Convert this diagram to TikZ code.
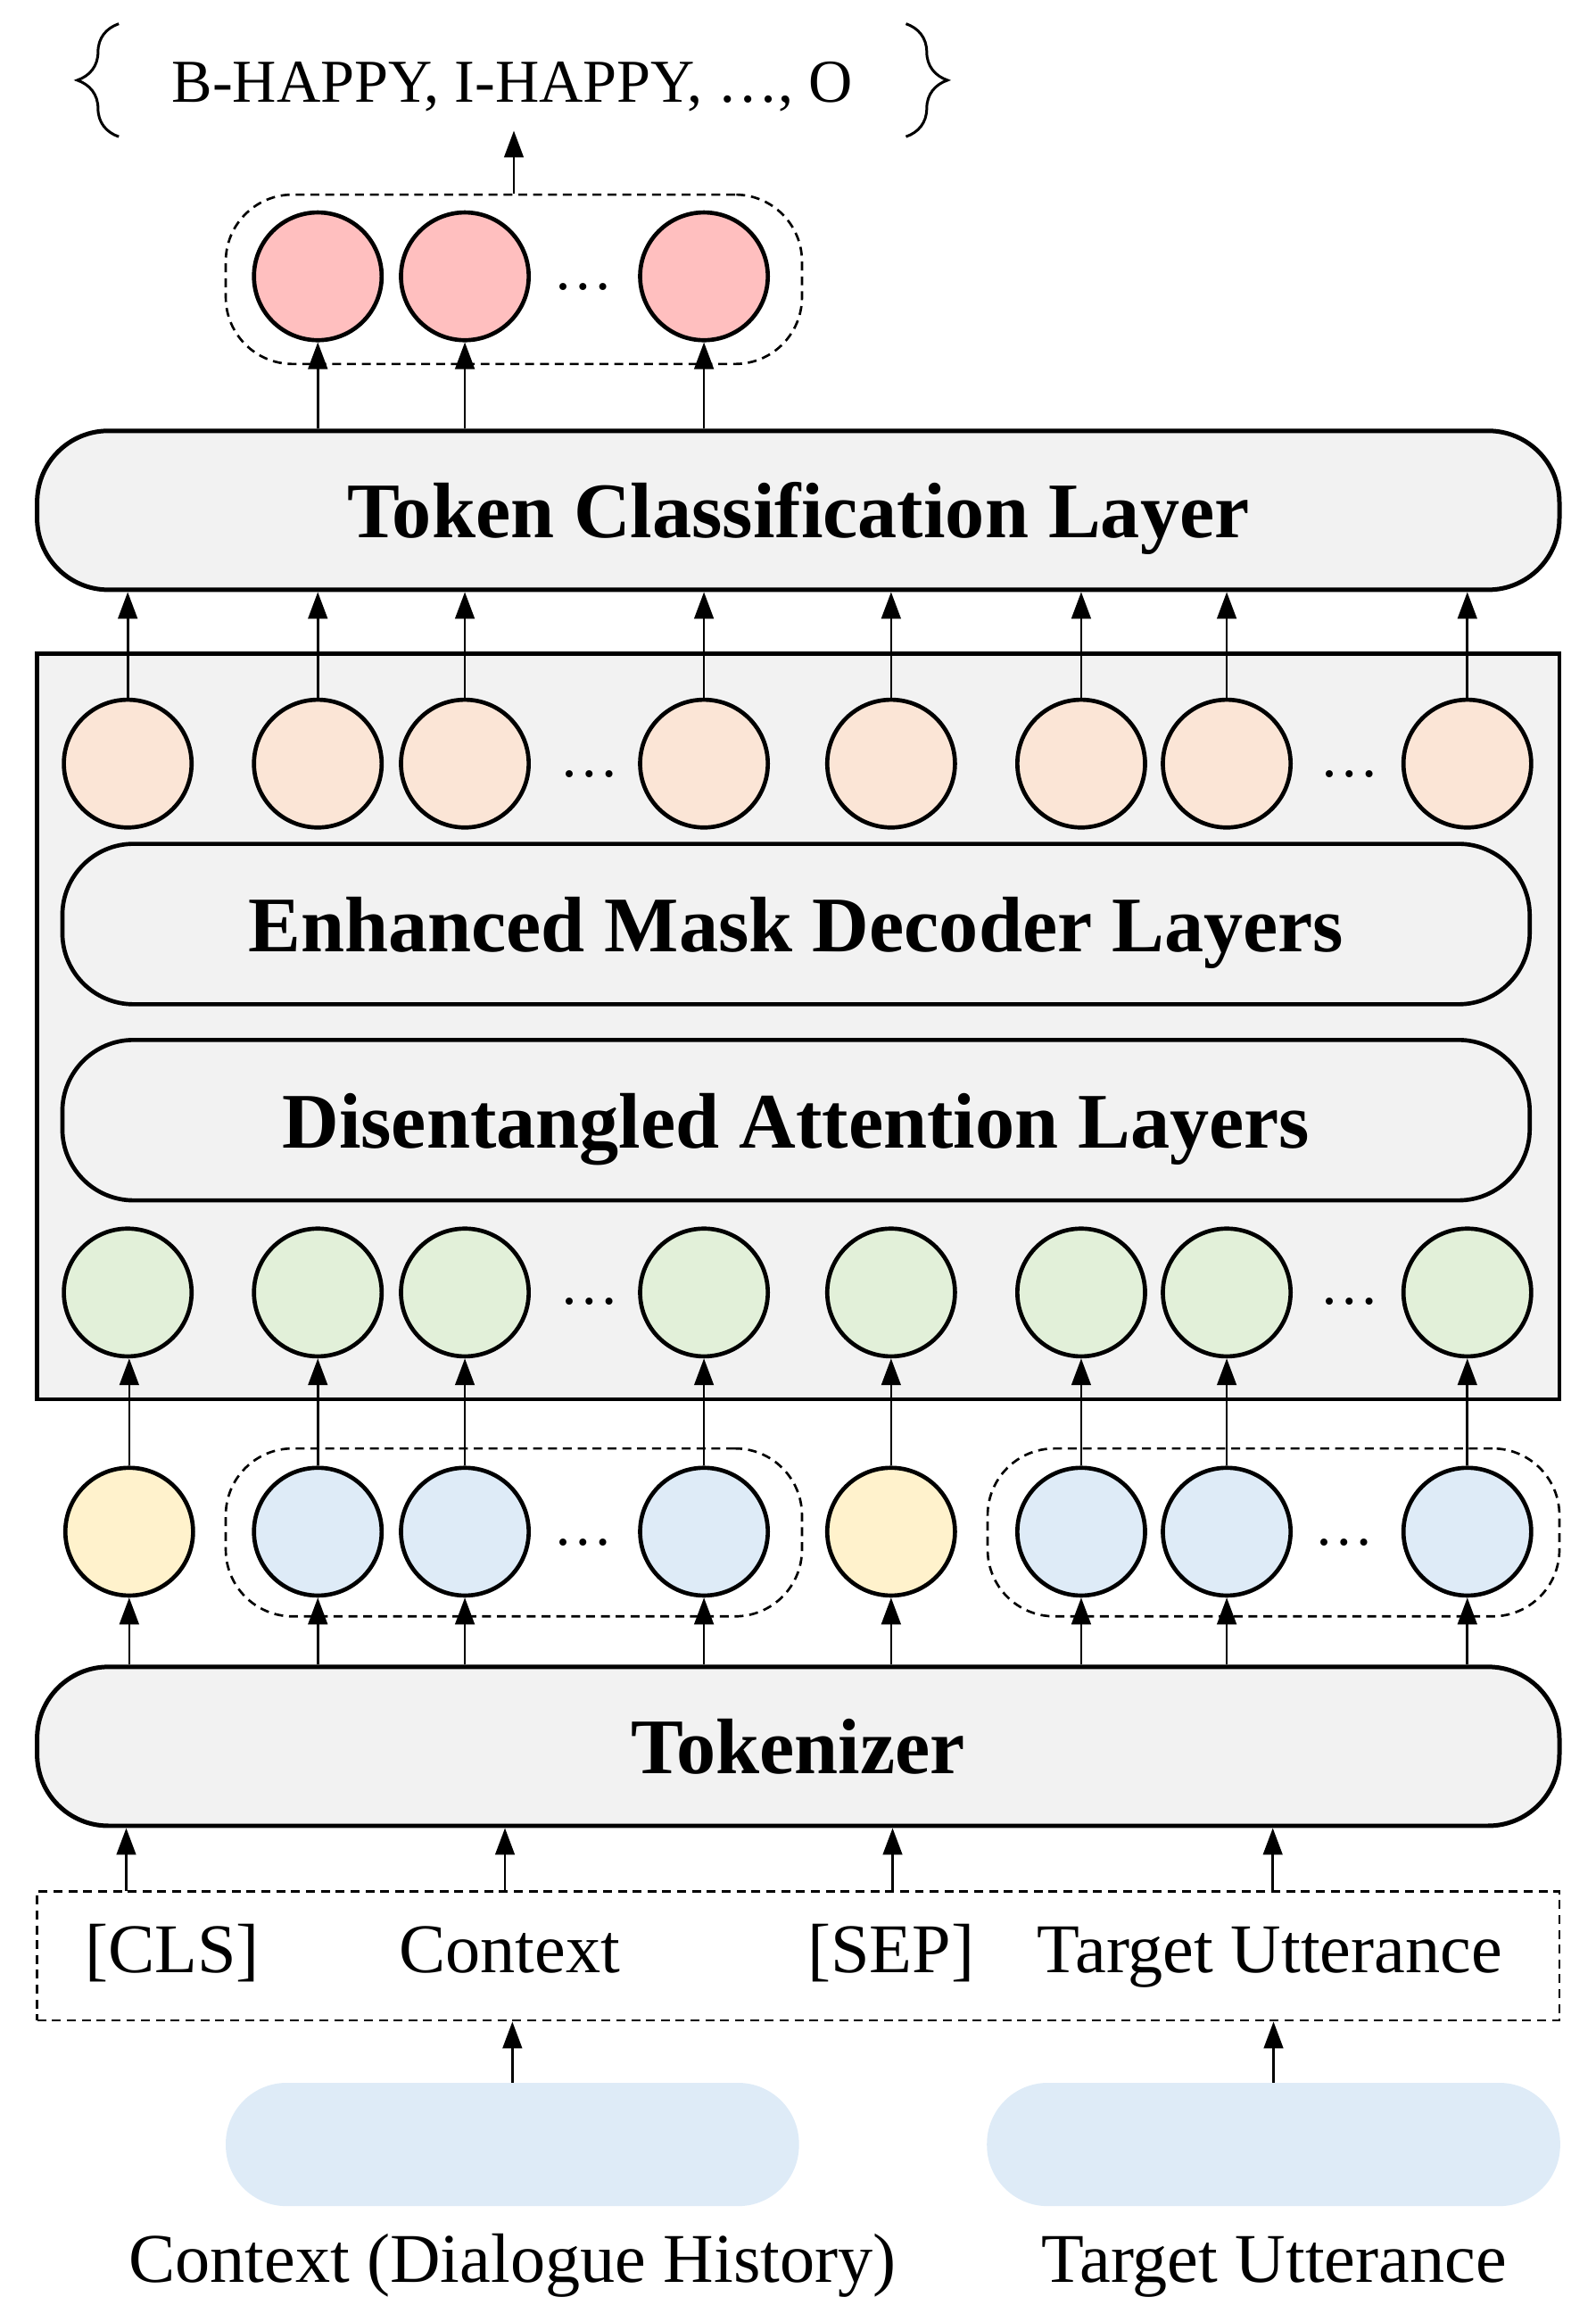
\documentclass[tikz,border=0pt]{standalone}
\usepackage{fontspec}
\setmainfont{Liberation Serif}
\usetikzlibrary{arrows.meta,decorations.pathreplacing}
\definecolor{boxgray}{HTML}{F2F2F2}
\definecolor{pinkc}{HTML}{FFBFBF}
\definecolor{peachc}{HTML}{FBE5D6}
\definecolor{greenc}{HTML}{E2F0D9}
\definecolor{yellowc}{HTML}{FFF2CC}
\definecolor{bluec}{HTML}{DEEBF7}
\tikzset{
  arr/.style={line width=1.6pt, -{Triangle[length=18pt,width=13pt]}},
  tokc/.style={circle, draw, line width=2.8pt, minimum size=86pt, inner sep=0pt},
  bigbox/.style={draw, line width=3pt, fill=boxgray, rounded corners=48pt, minimum width=1025pt, minimum height=107pt, inner sep=0pt, text height=37pt, text depth=0pt, font=\fontsize{53}{60}\selectfont\bfseries},
  innerbox/.style={draw, line width=2.8pt, fill=boxgray, rounded corners=48pt, minimum width=988pt, minimum height=108pt, inner sep=0pt, text height=37pt, text depth=0pt, font=\fontsize{53}{60}\selectfont\bfseries},
  grp/.style={draw, dashed, line width=1.6pt, dash pattern=on 6pt off 4pt, rounded corners=45pt, inner sep=0pt},
  blob/.style={fill=bluec, rounded corners=41pt, minimum width=386pt, minimum height=83pt, inner sep=0pt},
  lbl/.style={font=\fontsize{47}{54}\selectfont, inner sep=0pt, anchor=base},
  dotsn/.style={font=\fontsize{40}{46}\selectfont, inner sep=0pt, anchor=base},
  curly/.style={decorate, decoration={brace, amplitude=28pt}, line width=1.8pt},
}
\begin{document}
\begin{tikzpicture}[x=1pt,y=-1pt]
\useasboundingbox (0,0) rectangle (1074.6,1563);

% top label
\node[font=\fontsize{41}{48}\selectfont, inner sep=0pt, anchor=base] (out) at (345,68.5) {B-HAPPY, I-HAPPY, \ldots, O};
\coordinate (lbb) at (80,92);
\coordinate (lbt) at (80,16);
\coordinate (rbt) at (610,16);
\coordinate (rbb) at (610,92);
\draw[curly] (lbb) -- (lbt);
\draw[curly] (rbt) -- (rbb);
\coordinate (outarr) at (346,88);

% pink group
\node[grp, minimum width=388pt, minimum height=114pt] (pg) at (346,188) {};
\node[tokc, fill=pinkc] (p1) at (214,186) {};
\node[tokc, fill=pinkc] (p2) at (313,186) {};
\node[tokc, fill=pinkc] (p3) at (474,186) {};
\node[dotsn] (pd) at (393,195) {\ldots};
\draw[arr] (pg.north) -- (outarr);

% token classification layer
\node[bigbox] (tcl) at (537.5,343.5) {Token Classification Layer};
\foreach \i in {1,2,3} \draw[arr] (tcl.north -| p\i) -- (p\i.south);

% encoder box
\node[draw, line width=2.6pt, fill=boxgray, minimum width=1025pt, minimum height=502pt, inner sep=0pt] (enc) at (537.5,691) {};

\foreach \x [count=\i] in {86,214,313,474,600,728,826,988} {
  \node[tokc, fill=peachc] (e\i) at (\x,514) {};
  \node[tokc, fill=greenc] (g\i) at (\x,870) {};
}
\node[dotsn] (ed1) at (397,523) {\ldots};
\node[dotsn] (ed2) at (909,523) {\ldots};
\node[dotsn] (gd1) at (397,878) {\ldots};
\node[dotsn] (gd2) at (909,878) {\ldots};

\node[innerbox] (emd) at (536,622) {Enhanced Mask Decoder Layers};
\node[innerbox] (dal) at (536,754) {Disentangled Attention Layers};

\foreach \i in {1,...,8} \draw[arr] (e\i.north) -- (e\i.north |- tcl.south);

% token embeddings row
\node[grp, minimum width=388pt, minimum height=113pt] (bg1) at (346,1031.5) {};
\node[grp, minimum width=385pt, minimum height=113pt] (bg2) at (857.5,1031.5) {};
\node[tokc, fill=yellowc] (b1) at (87,1031) {};
\node[tokc, fill=bluec] (b2) at (214,1031) {};
\node[tokc, fill=bluec] (b3) at (313,1031) {};
\node[tokc, fill=bluec] (b4) at (474,1031) {};
\node[tokc, fill=yellowc] (b5) at (600,1031) {};
\node[tokc, fill=bluec] (b6) at (728,1031) {};
\node[tokc, fill=bluec] (b7) at (826,1031) {};
\node[tokc, fill=bluec] (b8) at (988,1031) {};
\node[dotsn] (bd1) at (393,1040) {\ldots};
\node[dotsn] (bd2) at (905,1040) {\ldots};

\foreach \i in {1,...,8} \draw[arr] (b\i.north) -- (b\i.north |- g\i.south);

% tokenizer
\node[bigbox] (tok) at (537.5,1175.5) {Tokenizer};
\foreach \i in {1,...,8} \draw[arr] (tok.north -| b\i) -- (b\i.south);

% input sequence
\node[draw, dashed, line width=1.6pt, dash pattern=on 6pt off 4pt, minimum width=1025pt, minimum height=87pt, inner sep=0pt] (inp) at (537.5,1316.5) {};
\node[lbl] (cls) at (116,1328) {[CLS]};
\node[lbl] (ctx) at (343,1328) {Context};
\node[lbl] (sep) at (600,1328) {[SEP]};
\node[lbl] (tu) at (855,1328) {Target Utterance};
\foreach \x [count=\i] in {85,340,601,857} {
  \coordinate (ia\i) at (\x,1273);
  \draw[arr] (ia\i) -- (ia\i |- tok.south);
}

% source blobs
\node[blob] (cb) at (345,1443.5) {};
\node[blob] (tb) at (857.5,1443.5) {};
\draw[arr] (cb.north) -- (cb.north |- inp.south);
\draw[arr] (tb.north) -- (tb.north |- inp.south);
\node[lbl] (cbl) at (345,1536) {Context (Dialogue History)};
\node[lbl] (tbl) at (858,1536) {Target Utterance};
\end{tikzpicture}
\end{document}
